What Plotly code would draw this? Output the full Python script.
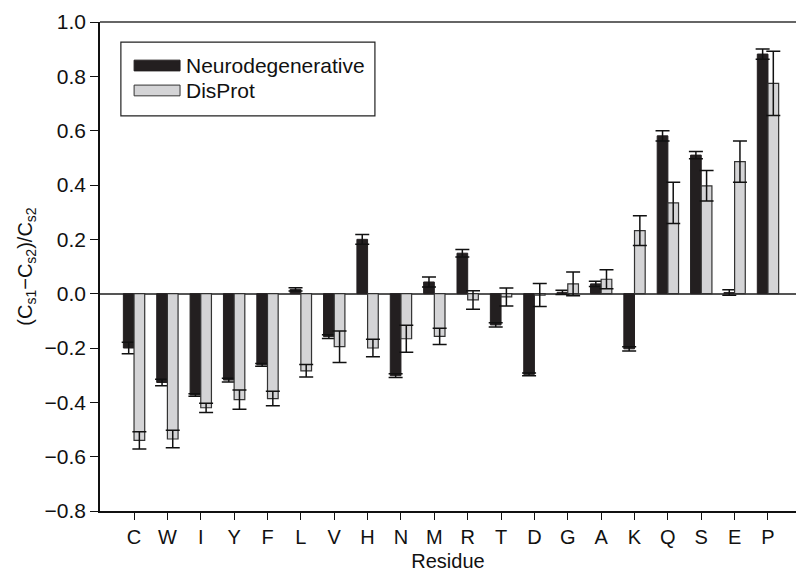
import plotly.graph_objects as go

residues = ["C", "W", "I", "Y", "F", "L", "V", "H", "N", "M",
            "R", "T", "D", "G", "A", "K", "Q", "S", "E", "P"]
series_names = ["Neurodegenerative", "DisProt"]
neuro = [-0.200, -0.327, -0.373, -0.318, -0.262, 0.016, -0.158, 0.200, -0.302, 0.043,
         0.149, -0.115, -0.297, 0.005, 0.036, -0.203, 0.581, 0.510, 0.004, 0.882]
neuro_err = [0.021, 0.012, 0.005, 0.007, 0.005, 0.006, 0.007, 0.018, 0.007, 0.018,
             0.014, 0.008, 0.005, 0.008, 0.010, 0.008, 0.019, 0.013, 0.010, 0.019]
disprot = [-0.540, -0.535, -0.420, -0.390, -0.386, -0.284, -0.195, -0.200, -0.166, -0.157,
           -0.023, -0.012, -0.005, 0.036, 0.053, 0.232, 0.334, 0.397, 0.486, 0.774]
disprot_err = [0.032, 0.032, 0.017, 0.035, 0.027, 0.023, 0.058, 0.032, 0.050, 0.030,
               0.034, 0.033, 0.042, 0.044, 0.035, 0.055, 0.076, 0.056, 0.076, 0.118]
y_ticks = [-0.8, -0.6, -0.4, -0.2, 0.0, 0.2, 0.4, 0.6, 0.8, 1.0]
y_ticktext = ["\u22120.8", "\u22120.6", "\u22120.4", "\u22120.2", "0.0", "0.2", "0.4", "0.6", "0.8", "1.0"]

BLACK = "#231f20"
GREY = "#d4d4d6"
FONT = "Liberation Sans, Arial, sans-serif"

fig = go.Figure()
fig.add_trace(go.Bar(
    x=residues, y=neuro, name=series_names[0],
    marker=dict(color=BLACK, line=dict(color=BLACK, width=1)),
    error_y=dict(type="data", array=neuro_err, visible=True, color="#111", thickness=1.5, width=7),
    showlegend=False,
))
fig.add_trace(go.Bar(
    x=residues, y=disprot, name=series_names[1],
    marker=dict(color=GREY, line=dict(color="#333333", width=1.2)),
    error_y=dict(type="data", array=disprot_err, visible=True, color="#111", thickness=1.5, width=7),
    showlegend=False,
))

# custom legend box
shapes = [
    dict(type="rect", xref="paper", yref="paper", x0=0.030, x1=0.395, y0=0.808, y1=0.959,
         line=dict(color="#222", width=1.2), fillcolor="white", layer="above"),
    dict(type="rect", xref="paper", yref="paper", x0=0.049, x1=0.115, y0=0.900, y1=0.922,
         line=dict(color=BLACK, width=1), fillcolor=BLACK, layer="above"),
    dict(type="rect", xref="paper", yref="paper", x0=0.049, x1=0.115, y0=0.849, y1=0.871,
         line=dict(color="#333", width=1), fillcolor=GREY, layer="above"),
    # top frame line
    dict(type="line", xref="paper", yref="paper", x0=0, x1=1, y0=1, y1=1,
         line=dict(color="#666", width=2)),
]
annotations = [
    dict(xref="paper", yref="paper", x=0.120, y=0.912, text=series_names[0], showarrow=False,
         xanchor="left", yanchor="middle", font=dict(size=21, color="#111", family=FONT)),
    dict(xref="paper", yref="paper", x=0.120, y=0.859, text=series_names[1], showarrow=False,
         xanchor="left", yanchor="middle", font=dict(size=21, color="#111", family=FONT)),
]

fig.update_layout(
    width=796, height=572,
    margin=dict(l=100, r=0, t=22, b=61),
    plot_bgcolor="white", paper_bgcolor="white",
    barmode="group", bargap=0.36, bargroupgap=0,
    font=dict(family=FONT, color="#111"),
    shapes=shapes, annotations=annotations,
    xaxis=dict(
        range=[-1.02, 19.84], showgrid=False, zeroline=False,
        showline=True, linecolor="#111", linewidth=1.5,
        ticks="outside", ticklen=7, tickwidth=1.2, tickcolor="#111",
        tickfont=dict(size=20, family=FONT),
        title=dict(text="Residue", font=dict(size=20, family=FONT), standoff=8),
    ),
    yaxis=dict(
        range=[-0.8, 1.0], showgrid=False,
        zeroline=True, zerolinecolor="#555", zerolinewidth=1.5,
        showline=True, linecolor="#111", linewidth=1.5,
        ticks="outside", ticklen=8, tickwidth=1.2, tickcolor="#111",
        tickvals=y_ticks, ticktext=y_ticktext,
        tickfont=dict(size=21, family=FONT),
        title=dict(text="(C<sub>s1</sub>\u2212C<sub>s2</sub>)/C<sub>s2</sub>",
                   font=dict(size=20, family=FONT), standoff=7),
    ),
)

fig.write_html("out.html", config={"displayModeBar": False},
               post_script="document.body.style.margin='0';document.body.style.overflow='hidden';")
